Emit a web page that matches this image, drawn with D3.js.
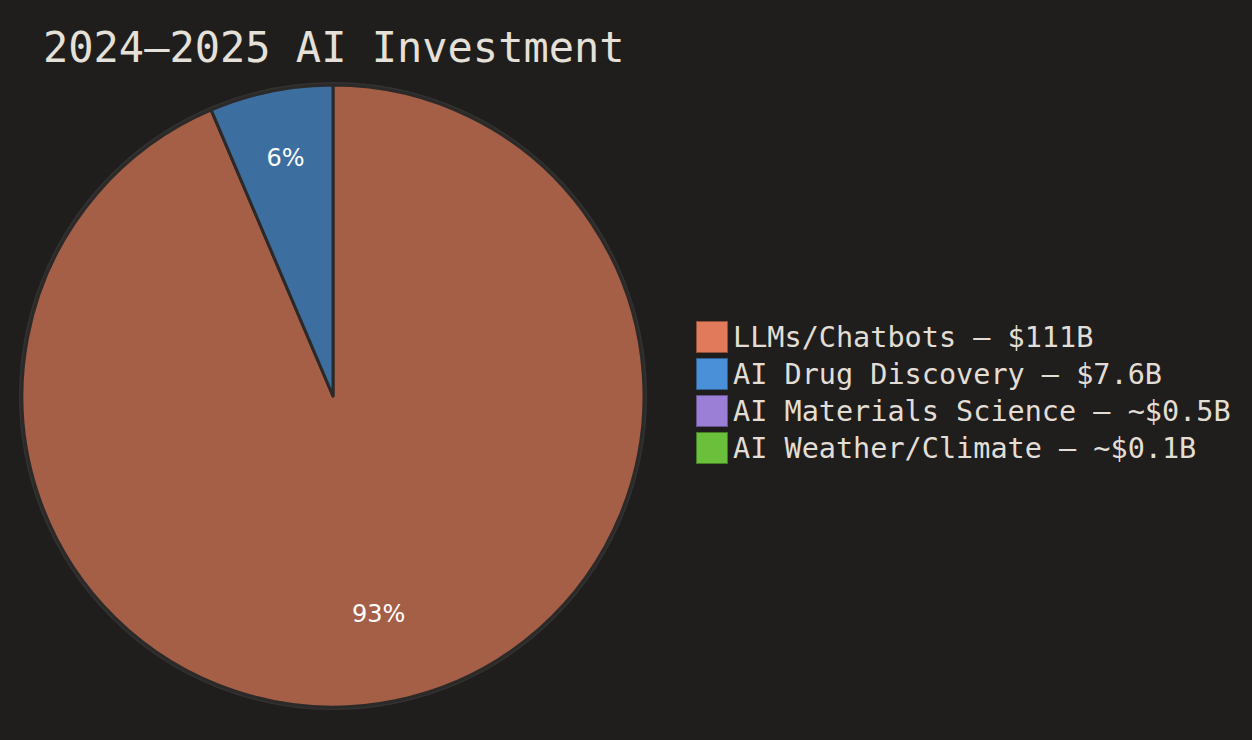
<!DOCTYPE html>
<html>
<head>
<meta charset="utf-8">
<script src="https://cdn.jsdelivr.net/npm/d3@7/dist/d3.min.js"></script>
<style>
  html, body { margin: 0; padding: 0; background: #1f1e1d; }
  svg { display: block; }
</style>
</head>
<body>
<svg id="chart" width="1252" height="740"></svg>
<script>
const title = "2024–2025 AI Investment";
const categories = ["LLMs/Chatbots", "AI Drug Discovery", "AI Materials Science", "AI Weather/Climate"];
const amountLabels = ["$111B", "$7.6B", "~$0.5B", "~$0.1B"];
const pieValues = [111, 7.6, 0, 0];
const colors = ["#e07a5a", "#4a90d9", "#9b7fd6", "#6abf3b"];

const W = 1252, H = 740;
const svg = d3.select("#chart");
svg.append("rect").attr("width", W).attr("height", H).attr("fill", "#1f1e1d");

svg.append("text")
  .attr("x", 43).attr("y", 62)
  .attr("font-family", "DejaVu Sans Mono, monospace")
  .attr("font-size", 42)
  .attr("fill", "#e6e1d8")
  .text(title);

const cx = 333, cy = 396, R = 311;
const g = svg.append("g").attr("transform", `translate(${cx},${cy})`);

const data = categories.map((c, i) => ({ name: c, value: pieValues[i], color: colors[i] }));
const total = d3.sum(data, d => d.value);
const pie = d3.pie().value(d => d.value).sort(null).startAngle(0).endAngle(2 * Math.PI);
const arcs = pie(data);
const arc = d3.arc().innerRadius(0).outerRadius(R);

// outer ring
g.append("circle").attr("r", R + 1).attr("fill", "none").attr("stroke", "#333231").attr("stroke-width", 4);

g.selectAll("path.slice").data(arcs.filter(a => a.data.value > 0)).join("path")
  .attr("class", "slice")
  .attr("d", arc)
  .attr("fill", d => d.data.color)
  .attr("fill-opacity", 0.7)
  .attr("stroke", "#2b2a29")
  .attr("stroke-width", 3)
  .attr("stroke-linejoin", "round");

g.selectAll("text.pct").data(arcs.filter(a => a.data.value / total > 0.03)).join("text")
  .attr("class", "pct")
  .attr("transform", d => {
    const frac = d.data.value / total;
    const lr = R * (frac > 0.5 ? 0.717 : 0.78);
    const a = (d.startAngle + d.endAngle) / 2;
    return `translate(${lr * Math.sin(a) + 1},${-lr * Math.cos(a)})`;
  })
  .attr("text-anchor", "middle")
  .attr("dominant-baseline", "central")
  .attr("font-family", "DejaVu Sans, sans-serif")
  .attr("font-size", 24)
  .attr("fill", "#ffffff")
  .text(d => Math.floor(d.data.value / total * 100) + "%");

// legend
const lx = 696, ly = 321, step = 37, box = 31;
const lg = svg.append("g");
const rows = lg.selectAll("g.row").data(categories).join("g")
  .attr("class", "row")
  .attr("transform", (d, i) => `translate(${lx},${ly + i * step})`);
rows.append("rect")
  .attr("x", 0.5).attr("y", 0.5)
  .attr("width", box).attr("height", box)
  .attr("fill", (d, i) => colors[i])
  .attr("stroke", (d, i) => d3.color(colors[i]).darker(1.2))
  .attr("stroke-width", 1);
rows.append("text")
  .attr("x", 37).attr("y", box / 2 + 1)
  .attr("dominant-baseline", "central")
  .attr("font-family", "DejaVu Sans Mono, monospace")
  .attr("font-size", 28.5)
  .attr("fill", "#e3ded5")
  .text((d, i) => `${d} — ${amountLabels[i]}`);
</script>
</body>
</html>
